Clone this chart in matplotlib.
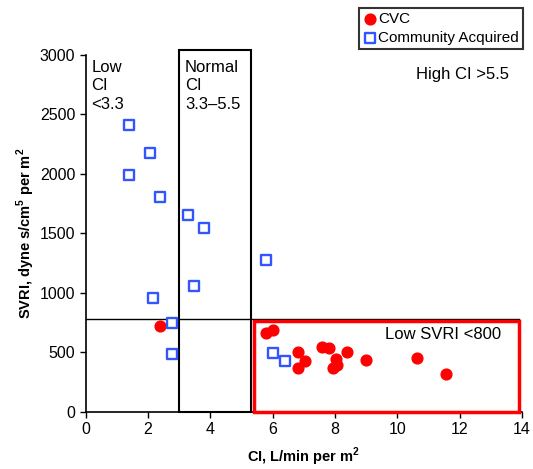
import matplotlib
matplotlib.use("Agg")
import matplotlib.pyplot as plt
from matplotlib.patches import Rectangle

plt.rcParams['font.family'] = ['Liberation Sans', 'DejaVu Sans']
plt.rcParams['mathtext.fontset'] = 'custom'
plt.rcParams['mathtext.rm'] = 'Liberation Sans'
plt.rcParams['mathtext.bf'] = 'Liberation Sans:bold'

# CVC (red dots)
cvc_ci = [2.39, 5.77, 6.0, 6.8, 7.03, 6.8, 7.59, 7.82, 8.02, 7.94, 8.05, 8.39, 9.01, 10.65, 11.56]
cvc_svri = [725, 661, 689, 507, 431, 373, 549, 538, 445, 367, 395, 507, 437, 454, 319]

# Community acquired (blue squares)
ca_ci = [1.38, 2.06, 1.38, 2.39, 3.29, 3.80, 5.80, 3.48, 2.16, 2.77, 2.77, 6.02, 6.39]
ca_svri = [2412, 2174, 1992, 1810, 1655, 1549, 1277, 1059, 955, 745, 487, 498, 428]

xticks = [0, 2, 4, 6, 8, 10, 12, 14]
yticks = [0, 500, 1000, 1500, 2000, 2500, 3000]

fig = plt.figure(figsize=(5.33, 4.69), dpi=100)
ax = fig.add_axes([0.161, 0.1215, 0.818, 0.7615])

# region boxes
ax.add_patch(Rectangle((3.0, 0), 2.3, 3040, fill=False, ec="black", lw=1.5, clip_on=False))
ax.plot([0, 13.9], [780, 780], color="black", lw=1, clip_on=False)
ax.add_patch(Rectangle((5.4, 0), 8.5, 765, fill=False, ec="red", lw=2.5, clip_on=False, zorder=3))

ax.scatter(cvc_ci, cvc_svri, s=60, c="red", marker="o", label="CVC", zorder=4, clip_on=False)
ax.scatter(ca_ci, ca_svri, s=42, facecolors="white", edgecolors="#3355ff", marker="s",
           linewidths=1.7, label="Community Acquired", zorder=4, clip_on=False)

ax.set_xlim(0, 14)
ax.set_ylim(0, 3000)
ax.set_xticks(xticks)
ax.set_yticks(yticks)
ax.tick_params(labelsize=11.5, length=4, width=1)
for s in ["top", "right"]:
    ax.spines[s].set_visible(False)
for s in ["left", "bottom"]:
    ax.spines[s].set_linewidth(1.2)

ax.set_xlabel(r"CI, L/min per m$^\mathbf{2}$", fontsize=10.5, fontweight="bold", labelpad=6)
ax.set_ylabel(r"SVRI, dyne s/cm$^\mathbf{5}$ per m$^\mathbf{2}$", fontsize=10.5,
              fontweight="bold", labelpad=2)

ax.text(0.18, 2960, "Low\nCI\n<3.3", fontsize=12, va="top", ha="left", linespacing=1.3)
ax.text(3.18, 2960, "Normal\nCI\n3.3\u20135.5", fontsize=12, va="top", ha="left", linespacing=1.3)
ax.text(12.1, 2835, "High CI >5.5", fontsize=12, ha="center", va="center")
ax.text(9.6, 650, "Low SVRI <800", fontsize=12, ha="left", va="center")

leg = fig.legend(loc="upper right", bbox_to_anchor=(0.981, 0.983), fontsize=11,
                 frameon=True, fancybox=False, edgecolor="black", borderpad=0.25,
                 handletextpad=0.1, handlelength=0.9, labelspacing=0.35, borderaxespad=0)
leg.get_frame().set_linewidth(1.5)

fig.savefig("out.png", dpi=100)
